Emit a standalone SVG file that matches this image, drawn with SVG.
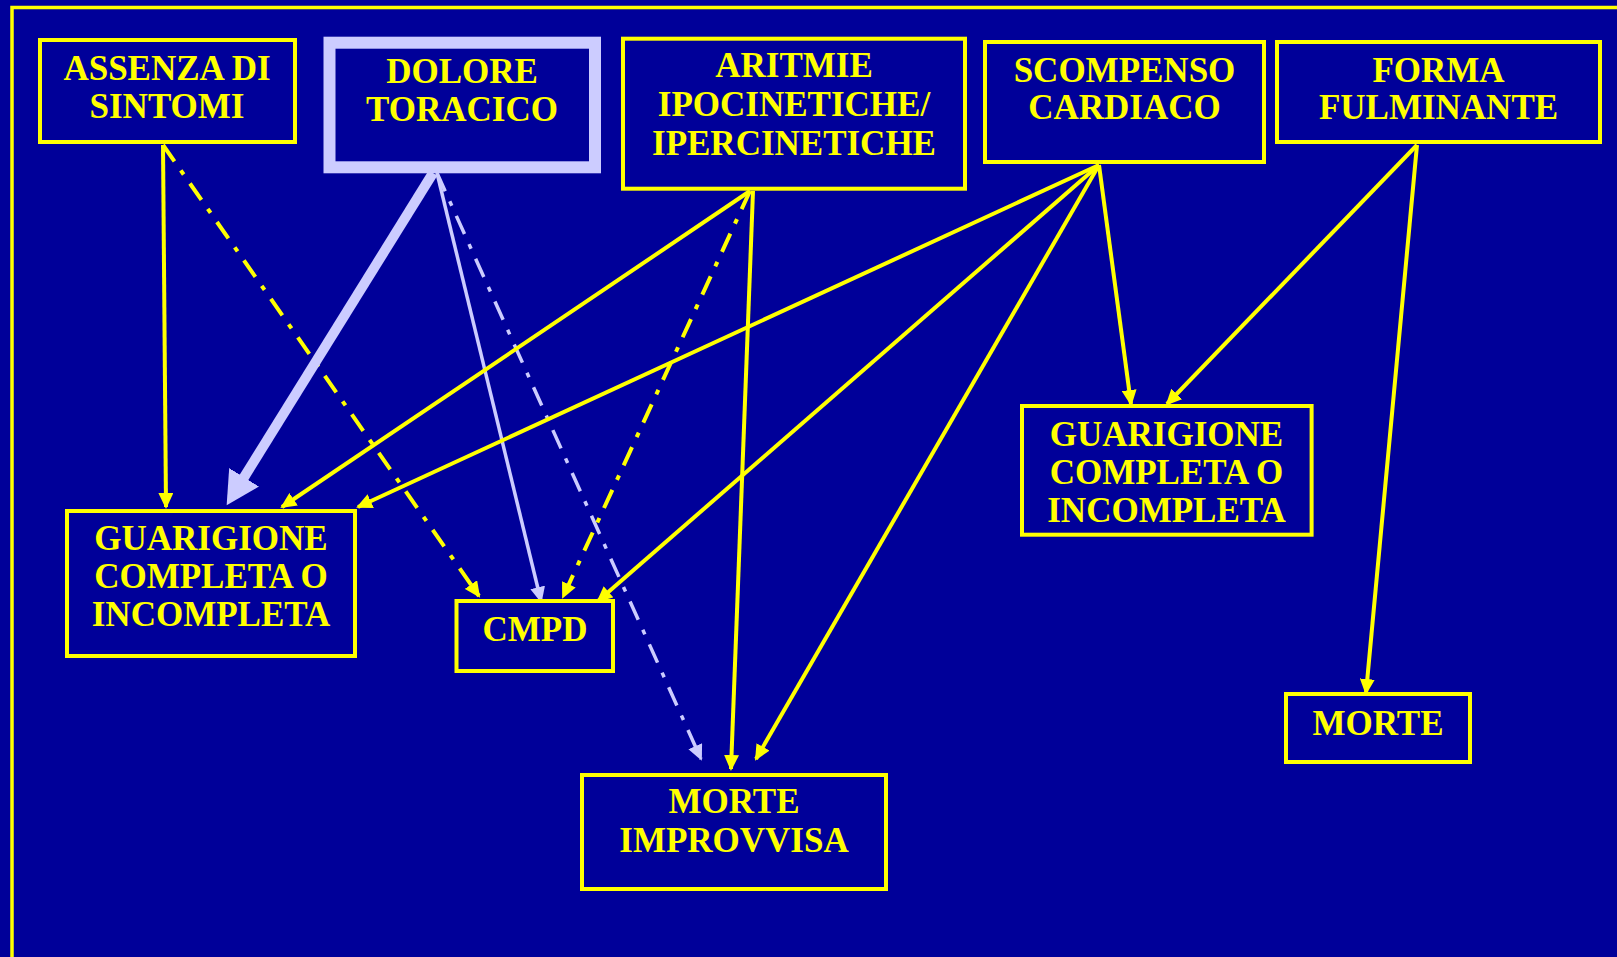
<svg xmlns="http://www.w3.org/2000/svg" width="1617" height="957" viewBox="0 0 1617 957">
<style>
.bg{fill:#000099}
.box{fill:none;stroke:#FFFF00;stroke-width:4}
.boxl{fill:none;stroke:#CCCCFF;stroke-width:12}
.t{font-family:"Liberation Serif","Times New Roman",serif;font-weight:bold;font-size:35px;fill:#FFFF00;text-anchor:middle}
.y{fill:none;stroke:#FFFF00;stroke-width:4}
.l{fill:none;stroke:#CCCCFF;stroke-width:3.5}
.lt{fill:none;stroke:#CCCCFF;stroke-width:10}
.dd{stroke-dasharray:20 11 5 11}
.ya{marker-end:url(#ay)}
.la{marker-end:url(#al)}
</style>
<defs>
<marker id="ay" markerUnits="userSpaceOnUse" markerWidth="17" markerHeight="15" refX="14" refY="7.5" orient="auto">
<path d="M0,0 L16,7.5 L0,15 z" fill="#FFFF00"/>
</marker>
<marker id="al" markerUnits="userSpaceOnUse" markerWidth="17" markerHeight="15" refX="14" refY="7.5" orient="auto">
<path d="M0,0 L16,7.5 L0,15 z" fill="#CCCCFF"/>
</marker>
<marker id="alb" markerUnits="userSpaceOnUse" markerWidth="34" markerHeight="36" refX="2" refY="17.5" orient="auto">
<path d="M0,0 L33,17.5 L0,35 z" fill="#CCCCFF"/>
</marker>
</defs>
<rect class="bg" x="0" y="0" width="1617" height="957"/>
<rect x="12" y="7.5" width="1700" height="1000" fill="none" stroke="#FFFF00" stroke-width="3.5"/>

<g id="connectors">
<path class="y ya" d="M163,145 L166,507"/>
<path class="y ya dd" d="M163,145 L479,596"/>
<path class="lt" d="M433,173 L243,479" marker-end="url(#alb)"/>
<path class="l la" d="M437,173 L541,601"/>
<path class="l la dd" d="M437,173 L701,759"/>
<path class="y ya" d="M750,191 L282,507"/>
<path class="y ya dd" d="M750,191 L563,597"/>
<path class="y ya" d="M753,191 L731,769"/>
<path class="y ya" d="M1099,165 L358,507"/>
<path class="y ya" d="M1099,165 L598,601"/>
<path class="y ya" d="M1099,165 L756,759"/>
<path class="y ya" d="M1099,165 L1131,404"/>
<path class="y ya" d="M1417,145 L1167,404"/>
<path class="y ya" d="M1417,145 L1366,693"/>
</g>

<g id="assenza">
<rect class="box" x="40" y="40" width="255" height="102"/>
<text class="t" x="167" y="80">ASSENZA DI</text>
<text class="t" x="167" y="118">SINTOMI</text>
</g>
<g id="dolore">
<rect class="boxl" x="329.5" y="42.7" width="265.5" height="124.6"/>
<text class="t" x="462" y="83">DOLORE</text>
<text class="t" x="462" y="121">TORACICO</text>
</g>
<g id="aritmie">
<rect class="box" x="623" y="38.7" width="342" height="150"/>
<text class="t" x="794" y="77">ARITMIE</text>
<text class="t" x="794" y="116">IPOCINETICHE/</text>
<text class="t" x="794" y="155">IPERCINETICHE</text>
</g>
<g id="scompenso">
<rect class="box" x="985" y="42" width="279" height="120"/>
<text class="t" x="1124.5" y="82">SCOMPENSO</text>
<text class="t" x="1124.5" y="119">CARDIACO</text>
</g>
<g id="forma">
<rect class="box" x="1277" y="42" width="323" height="100"/>
<text class="t" x="1438.5" y="82">FORMA</text>
<text class="t" x="1438.5" y="119">FULMINANTE</text>
</g>
<g id="guarigione-l">
<rect class="box" x="67" y="511" width="288" height="145"/>
<text class="t" x="211" y="550">GUARIGIONE</text>
<text class="t" x="211" y="587.5">COMPLETA O</text>
<text class="t" x="211" y="625.5">INCOMPLETA</text>
</g>
<g id="cmpd">
<rect class="box" x="456.5" y="601" width="156.5" height="70"/>
<text class="t" x="535" y="641">CMPD</text>
</g>
<g id="morte-improvvisa">
<rect class="box" x="582" y="775" width="304" height="114"/>
<text class="t" x="734" y="813">MORTE</text>
<text class="t" x="734" y="852">IMPROVVISA</text>
</g>
<g id="guarigione-r">
<rect class="box" x="1022" y="406" width="289.6" height="128.7"/>
<text class="t" x="1166.5" y="446">GUARIGIONE</text>
<text class="t" x="1166.5" y="484">COMPLETA O</text>
<text class="t" x="1166.5" y="521.5">INCOMPLETA</text>
</g>
<g id="morte">
<rect class="box" x="1286" y="694" width="184" height="68"/>
<text class="t" x="1378" y="735">MORTE</text>
</g>
</svg>
